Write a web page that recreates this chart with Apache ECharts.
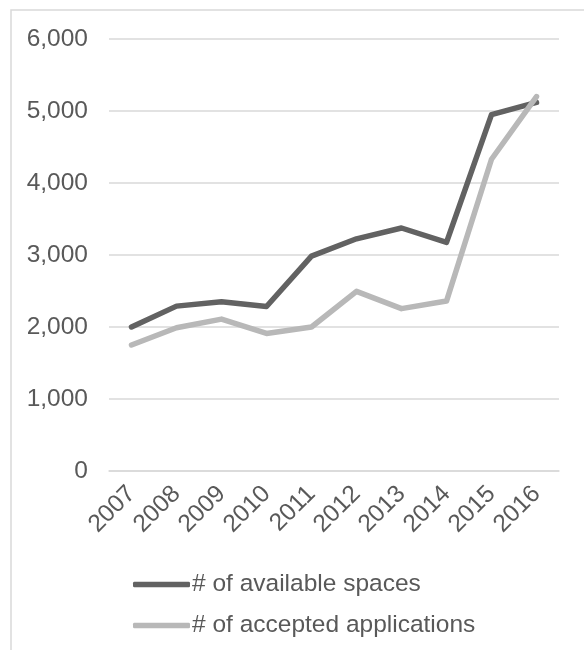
<!DOCTYPE html>
<html>
<head>
<meta charset="utf-8">
<script src="https://cdn.jsdelivr.net/npm/echarts@6/dist/echarts.min.js"></script>
<style>
html,body{margin:0;padding:0;background:#fff;}
#c{width:584px;height:650px;}
</style>
</head>
<body>
<div id="c"></div>
<script>
const years = ['2007','2008','2009','2010','2011','2012','2013','2014','2015','2016'];
const availableSpaces = [2000, 2290, 2350, 2285, 2985, 3225, 3375, 3175, 4950, 5120];
const acceptedApplications = [1750, 1990, 2110, 1910, 2000, 2495, 2255, 2360, 4330, 5200];
const yTicks = {min: 0, max: 6000, interval: 1000};

const font = 'Liberation Sans, Arial, sans-serif';
const textColor = '#595959';
const fs = 24.5;
const chart = echarts.init(document.getElementById('c'));
chart.setOption({
  animation: false,
  backgroundColor: '#fff',
  graphic: [{
    type: 'rect',
    shape: {x: 11, y: 10, width: 700, height: 800},
    style: {fill: 'none', stroke: '#d9d9d9', lineWidth: 1.5},
    silent: true
  }],
  grid: {left: 109, right: 25, top: 39, bottom: 179, containLabel: false},
  xAxis: {
    type: 'category',
    data: years,
    boundaryGap: true,
    axisLine: {show: true, lineStyle: {color: '#d9d9d9', width: 1.5}},
    axisTick: {show: false},
    axisLabel: {rotate: 45, margin: 19, color: textColor, fontSize: fs, fontFamily: font, interval: 0}
  },
  yAxis: {
    type: 'value',
    min: yTicks.min, max: yTicks.max, interval: yTicks.interval,
    axisLine: {show: false},
    axisTick: {show: false},
    splitLine: {lineStyle: {color: '#d9d9d9', width: 1.5}},
    axisLabel: {
      margin: 21, color: textColor, fontSize: fs, fontFamily: font,
      formatter: v => v.toLocaleString('en-US')
    }
  },
  legend: {
    orient: 'vertical',
    left: 133, top: 572, height: 150, width: 450,
    padding: 0,
    icon: 'roundRect',
    itemWidth: 57, itemHeight: 5.5, itemGap: 16,
    textStyle: {color: textColor, fontSize: fs, fontFamily: font, padding: [0,0,0,-3]},
    data: ['# of available spaces', '# of accepted applications']
  },
  series: [
    {
      name: '# of available spaces', type: 'line', data: availableSpaces,
      symbol: 'none', lineStyle: {color: '#626262', width: 5.5, cap: 'round', join: 'round'},
      itemStyle: {color: '#626262'}
    },
    {
      name: '# of accepted applications', type: 'line', data: acceptedApplications,
      symbol: 'none', lineStyle: {color: '#b8b8b8', width: 5.5, cap: 'round', join: 'round'},
      itemStyle: {color: '#b8b8b8'}
    }
  ]
});
</script>
</body>
</html>
